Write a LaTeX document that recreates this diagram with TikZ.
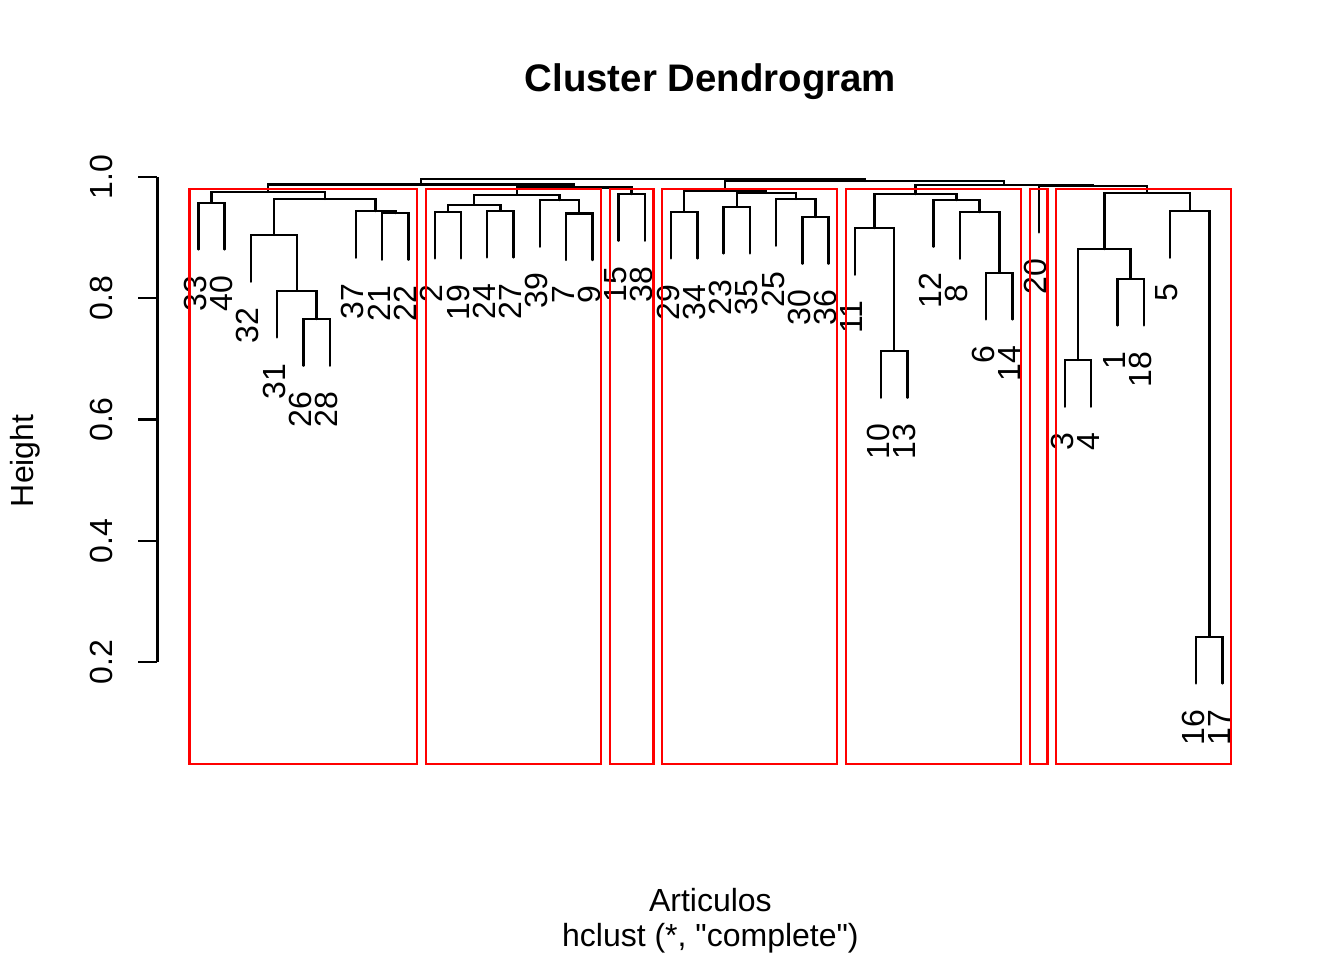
\documentclass[tikz,border=0pt]{standalone}
\usepackage{fontspec}
\setmainfont{Liberation Sans}[Ligatures=TeXOff]

\tikzset{branch/.style = {draw,
                          color = black,
                          line width = 0.9bp,
                          line cap = round},
         cutbox/.style = {draw = red,
                          line width = 0.85bp},
         leaflab/.style = {rotate = 90,
                           anchor = east,
                           inner sep = 0pt,
                           font = \fontsize{12bp}{14bp}\selectfont},
         axlab/.style = {rotate = 90,
                         anchor = base,
                         inner sep = 0pt,
                         font = \fontsize{12bp}{14bp}\selectfont},
         plaintext/.style = {anchor = base,
                             inner sep = 0pt,
                             font = \fontsize{12bp}{14bp}\selectfont}}

\begin{document}
\begin{tikzpicture}[x=0.375bp, y=-0.375bp]
		\useasboundingbox (0,0) rectangle (1344,960);
		% leaves and their labels
		\coordinate (l33) at (198.40,249.4);  \node[leaflab] (n33) at (195.40,274.9) {33};
		\coordinate (l40) at (224.66,249.4);  \node[leaflab] (n40) at (221.66,274.9) {40};
		\coordinate (l32) at (250.92,281.7);  \node[leaflab] (n32) at (247.92,307.2) {32};
		\coordinate (l31) at (277.18,337.4);  \node[leaflab] (n31) at (274.18,362.9) {31};
		\coordinate (l26) at (303.44,365.7);  \node[leaflab] (n26) at (300.44,391.2) {26};
		\coordinate (l28) at (329.70,365.7);  \node[leaflab] (n28) at (326.70,391.2) {28};
		\coordinate (l37) at (355.96,257.7);  \node[leaflab] (n37) at (352.96,283.2) {37};
		\coordinate (l21) at (382.22,259.7);  \node[leaflab] (n21) at (379.22,285.2) {21};
		\coordinate (l22) at (408.48,259.7);  \node[leaflab] (n22) at (405.48,285.2) {22};
		\coordinate (l2) at (434.74,258.4);   \node[leaflab] (n2) at (431.74,283.9) {2};
		\coordinate (l19) at (461.00,258.4);  \node[leaflab] (n19) at (458.00,283.9) {19};
		\coordinate (l24) at (487.26,257.4);  \node[leaflab] (n24) at (484.26,282.9) {24};
		\coordinate (l27) at (513.52,257.4);  \node[leaflab] (n27) at (510.52,282.9) {27};
		\coordinate (l39) at (539.78,246.7);  \node[leaflab] (n39) at (536.78,272.2) {39};
		\coordinate (l7) at (566.04,260.0);   \node[leaflab] (n7) at (563.04,285.5) {7};
		\coordinate (l9) at (592.30,260.0);   \node[leaflab] (n9) at (589.30,285.5) {9};
		\coordinate (l15) at (618.56,240.7);  \node[leaflab] (n15) at (615.56,266.2) {15};
		\coordinate (l38) at (644.82,240.7);  \node[leaflab] (n38) at (641.82,266.2) {38};
		\coordinate (l29) at (671.08,258.4);  \node[leaflab] (n29) at (668.08,283.9) {29};
		\coordinate (l34) at (697.34,258.4);  \node[leaflab] (n34) at (694.34,283.9) {34};
		\coordinate (l23) at (723.60,253.4);  \node[leaflab] (n23) at (720.60,278.9) {23};
		\coordinate (l35) at (749.86,253.4);  \node[leaflab] (n35) at (746.86,278.9) {35};
		\coordinate (l25) at (776.12,245.7);  \node[leaflab] (n25) at (773.12,271.2) {25};
		\coordinate (l30) at (802.38,263.7);  \node[leaflab] (n30) at (799.38,289.2) {30};
		\coordinate (l36) at (828.64,263.7);  \node[leaflab] (n36) at (825.64,289.2) {36};
		\coordinate (l11) at (854.90,274.7);  \node[leaflab] (n11) at (851.90,300.2) {11};
		\coordinate (l10) at (881.16,397.7);  \node[leaflab] (n10) at (878.16,423.2) {10};
		\coordinate (l13) at (907.42,397.7);  \node[leaflab] (n13) at (904.42,423.2) {13};
		\coordinate (l12) at (933.68,246.7);  \node[leaflab] (n12) at (930.68,272.2) {12};
		\coordinate (l8) at (959.94,258.7);   \node[leaflab] (n8) at (956.94,284.2) {8};
		\coordinate (l6) at (986.20,319.4);   \node[leaflab] (n6) at (983.20,344.9) {6};
		\coordinate (l14) at (1012.46,319.4); \node[leaflab] (n14) at (1009.46,344.9) {14};
		\coordinate (l20) at (1038.72,232.4); \node[leaflab] (n20) at (1035.72,257.9) {20};
		\coordinate (l3) at (1064.98,406.7);  \node[leaflab] (n3) at (1061.98,432.2) {3};
		\coordinate (l4) at (1091.24,406.7);  \node[leaflab] (n4) at (1088.24,432.2) {4};
		\coordinate (l1) at (1117.50,325.4);  \node[leaflab] (n1) at (1114.50,350.9) {1};
		\coordinate (l18) at (1143.76,325.4); \node[leaflab] (n18) at (1140.76,350.9) {18};
		\coordinate (l5) at (1170.02,257.7);  \node[leaflab] (n5) at (1167.02,283.2) {5};
		\coordinate (l16) at (1196.28,683.4); \node[leaflab] (n16) at (1193.28,708.9) {16};
		\coordinate (l17) at (1222.54,683.4); \node[leaflab] (n17) at (1219.54,708.9) {17};
		% merge points
		\coordinate (a1) at (211.53,202.7);
		\coordinate (a2) at (316.57,319.0);
		\coordinate (a3) at (296.88,290.7);
		\coordinate (a4) at (273.90,235.0);
		\coordinate (a5) at (395.35,213.0);
		\coordinate (a6) at (375.66,211.0);
		\coordinate (a7) at (324.78,199.0);
		\coordinate (a8) at (268.16,192.0);
		\coordinate (b1) at (447.87,211.7);
		\coordinate (b2) at (500.39,210.7);
		\coordinate (b3) at (474.13,204.7);
		\coordinate (b4) at (579.17,213.3);
		\coordinate (b5) at (559.48,200.0);
		\coordinate (b6) at (516.80,194.7);
		\coordinate (c1) at (631.69,194.0);
		\coordinate (d1) at (684.21,211.7);
		\coordinate (d2) at (736.73,206.7);
		\coordinate (d3) at (815.51,217.0);
		\coordinate (d4) at (795.82,199.0);
		\coordinate (d5) at (766.27,193.0);
		\coordinate (d6) at (725.24,190.7);
		\coordinate (f1) at (894.29,351.0);
		\coordinate (f2) at (874.60,228.0);
		\coordinate (f3) at (999.33,272.7);
		\coordinate (f4) at (979.64,212.0);
		\coordinate (f5) at (956.66,200.0);
		\coordinate (f6) at (915.63,194.0);
		\coordinate (g1) at (1078.11,360.0);
		\coordinate (g2) at (1130.63,278.7);
		\coordinate (g3) at (1104.37,249.0);
		\coordinate (g4) at (1209.41,636.7);
		\coordinate (g5) at (1189.72,211.0);
		\coordinate (g6) at (1147.05,192.7);
		\coordinate (jbc) at (574.25,187.3);
		\coordinate (jabc) at (421.20,184.3);
		\coordinate (jtg) at (1092.88,185.7);
		\coordinate (jftg) at (1004.26,184.7);
		\coordinate (jdftg) at (864.75,181.0);
		\coordinate (top) at (642.98,179.0);
		% branches
		\draw[branch] (l33) |- (a1) -| (l40);
		\draw[branch] (l26) |- (a2) -| (l28);
		\draw[branch] (l31) |- (a3) -| (a2);
		\draw[branch] (l32) |- (a4) -| (a3);
		\draw[branch] (l21) |- (a5) -| (l22);
		\draw[branch] (l37) |- (a6) -| (a5);
		\draw[branch] (a4) |- (a7) -| (a6);
		\draw[branch] (a1) |- (a8) -| (a7);
		\draw[branch] (l2) |- (b1) -| (l19);
		\draw[branch] (l24) |- (b2) -| (l27);
		\draw[branch] (b1) |- (b3) -| (b2);
		\draw[branch] (l7) |- (b4) -| (l9);
		\draw[branch] (l39) |- (b5) -| (b4);
		\draw[branch] (b3) |- (b6) -| (b5);
		\draw[branch] (l15) |- (c1) -| (l38);
		\draw[branch] (b6) |- (jbc) -| (c1);
		\draw[branch] (a8) |- (jabc) -| (jbc);
		\draw[branch] (l29) |- (d1) -| (l34);
		\draw[branch] (l23) |- (d2) -| (l35);
		\draw[branch] (l30) |- (d3) -| (l36);
		\draw[branch] (l25) |- (d4) -| (d3);
		\draw[branch] (d2) |- (d5) -| (d4);
		\draw[branch] (d1) |- (d6) -| (d5);
		\draw[branch] (l10) |- (f1) -| (l13);
		\draw[branch] (l11) |- (f2) -| (f1);
		\draw[branch] (l6) |- (f3) -| (l14);
		\draw[branch] (l8) |- (f4) -| (f3);
		\draw[branch] (l12) |- (f5) -| (f4);
		\draw[branch] (f2) |- (f6) -| (f5);
		\draw[branch] (l3) |- (g1) -| (l4);
		\draw[branch] (l1) |- (g2) -| (l18);
		\draw[branch] (g1) |- (g3) -| (g2);
		\draw[branch] (l16) |- (g4) -| (l17);
		\draw[branch] (l5) |- (g5) -| (g4);
		\draw[branch] (g3) |- (g6) -| (g5);
		\draw[branch] (l20) |- (jtg) -| (g6);
		\draw[branch] (f6) |- (jftg) -| (jtg);
		\draw[branch] (d6) |- (jdftg) -| (jftg);
		\draw[branch] (jabc) |- (top) -| (jdftg);
		% cut boxes
		\draw[cutbox] (189.47,189.0) rectangle (417.15,764.2);
		\draw[cutbox] (425.81,189.0) rectangle (600.97,764.2);
		\draw[cutbox] (609.63,189.0) rectangle (653.49,764.2);
		\draw[cutbox] (662.15,189.0) rectangle (837.31,764.2);
		\draw[cutbox] (845.97,189.0) rectangle (1021.13,764.2);
		\draw[cutbox] (1029.79,189.0) rectangle (1047.39,764.2);
		\draw[cutbox] (1056.05,189.0) rectangle (1231.21,764.2);
		% height axis
		\draw[branch, line cap = butt] (157.4,177.0) -- (157.4,662.0);
		\draw[branch, line cap = butt] (157.4,662.0) -- (138.2,662.0);
		\draw[branch, line cap = butt] (157.4,540.75) -- (138.2,540.75);
		\draw[branch, line cap = butt] (157.4,419.5) -- (138.2,419.5);
		\draw[branch, line cap = butt] (157.4,298.25) -- (138.2,298.25);
		\draw[branch, line cap = butt] (157.4,177.0) -- (138.2,177.0);
		\node[axlab] (t02) at (112.5,662.0) {0.2};
		\node[axlab] (t04) at (112.5,540.75) {0.4};
		\node[axlab] (t06) at (112.5,419.5) {0.6};
		\node[axlab] (t08) at (112.5,298.25) {0.8};
		\node[axlab] (t10) at (112.5,177.0) {1.0};
		\node[axlab] (ylab) at (33.5,460.8) {Height};
		% titles
		\node[plaintext, font = \fontsize{14.4bp}{17bp}\selectfont\bfseries] (title) at (710.4,91.7) {Cluster Dendrogram};
		\node[plaintext] (xlab) at (710.4,911.0) {Articulos};
		\node[plaintext] (sub) at (710.4,946.0) {hclust (*, "complete")};
	\end{tikzpicture}
\end{document}
